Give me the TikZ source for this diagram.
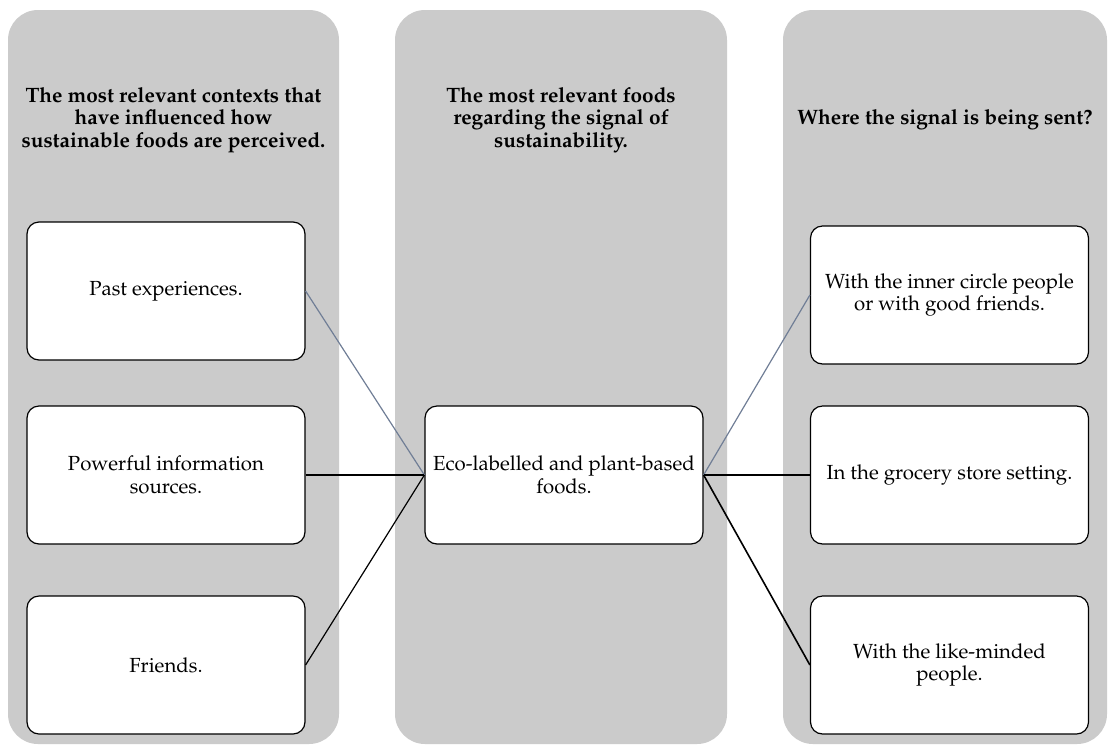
\documentclass[tikz,border=0pt]{standalone}
\usepackage[T1]{fontenc}
\usepackage{mathpazo}
\usetikzlibrary{positioning}

\definecolor{colgray}{RGB}{203,203,203}
\definecolor{slate}{RGB}{112,126,150}

\tikzset{
  column/.style={fill=colgray,draw=none,rounded corners=15pt,minimum width=#1,minimum height=367pt,inner sep=0pt},
  heading/.style={align=center,font=\bfseries\fontsize{10.4}{11.3}\selectfont},
  item/.style={draw,line width=0.6pt,fill=white,rounded corners=6pt,inner xsep=1pt,minimum width=139pt,minimum height=69pt,align=center,font=\fontsize{10.2}{11.2}\selectfont},
  link/.style={line width=0.6pt}
}

\begin{document}
\begin{tikzpicture}[x=1pt,y=-1pt]
	\useasboundingbox (0,0) rectangle (554,372.5);
	% the three columns
	\node[column=165.5pt] (ctx) at (86.75,188.5) {};
	\node[column=166pt] (food) at (280.5,188.5) {};
	\node[column=162pt] (sent) at (472.5,188.5) {};
	\node[heading] (hctx) at (86.75,60) {The most relevant contexts that\\have influenced how\\sustainable foods are perceived.};
	\node[heading] (hfood) at (280.5,60) {The most relevant foods\\regarding the signal of\\sustainability.};
	\node[heading] (hsent) at (472.5,60) {Where the signal is being sent?};

	\node[item] (past) at (83,145.5) {Past experiences.};
	\node[item] (info) at (83,237.5) {Powerful information\\sources.};
	\node[item] (friends) at (83,332.5) {Friends.};
	\node[item] (eco) at (282,237.5) {Eco-labelled and plant-based\\foods.};
	\node[item] (inner) at (474.75,147.5) {With the inner circle people\\or with good friends.};
	\node[item] (store) at (474.75,237.5) {In the grocery store setting.};
	\node[item] (like) at (474.75,332.5) {With the like-minded\\people.};

	\draw[link,slate] (past.east) -- (eco.west);
	\draw[link] (info.east) -- (eco.west);
	\draw[link] (friends.east) -- (eco.west);
	\draw[link,slate] (eco.east) -- (inner.west);
	\draw[link] (eco.east) -- (store.west);
	\draw[link,line width=0.8pt] (eco.east) -- (like.west);
\end{tikzpicture}
\end{document}
